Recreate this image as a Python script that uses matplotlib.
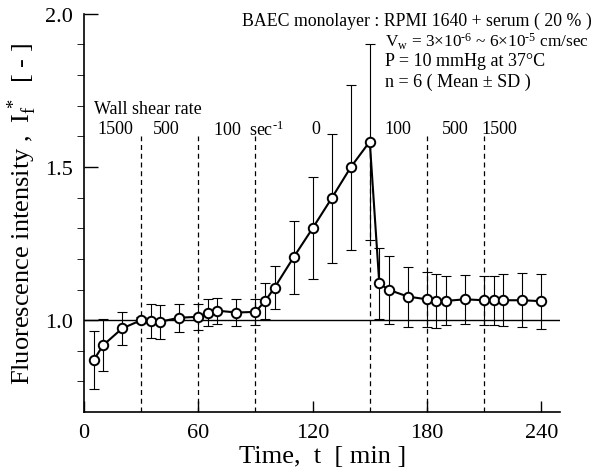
import matplotlib
matplotlib.use("Agg")
import matplotlib.pyplot as plt
import numpy as np

plt.rcParams["font.family"] = ["Liberation Serif", "DejaVu Serif"]
plt.rcParams["mathtext.fontset"] = "custom"
plt.rcParams["mathtext.rm"] = "Liberation Serif"
plt.rcParams["mathtext.it"] = "Liberation Serif:italic"

# time points [min], mean fluorescence intensity and SD
t = [5, 10, 20, 30, 35, 40, 50, 60, 65, 70, 80, 90, 95, 100, 110, 120, 130,
     140, 150, 155, 160, 170, 180, 185, 190, 200, 210, 215, 220, 230, 240]
mean_if = [0.869, 0.918, 0.973, 1.000, 0.997, 0.995, 1.008, 1.011, 1.025,
           1.031, 1.025, 1.027, 1.062, 1.106, 1.205, 1.300, 1.398, 1.499,
           1.583, 1.120, 1.099, 1.077, 1.068, 1.063, 1.063, 1.068, 1.065,
           1.065, 1.065, 1.065, 1.062]
sd_if = [0.095, 0.085, 0.055, 0.010, 0.055, 0.055, 0.045, 0.043, 0.043,
         0.042, 0.045, 0.043, 0.059, 0.070, 0.120, 0.166, 0.210, 0.270,
         0.320, 0.117, 0.110, 0.098, 0.090, 0.088, 0.080, 0.080, 0.080,
         0.080, 0.085, 0.088, 0.090]

# shear rate change times and the labels of each period
switch_t = [30, 60, 90, 150, 180, 210]
rate_x = [6.8, 36, 67.6, 119.5, 157.8, 187.6, 208.6]
rate_labels = ["1500", "500", r"100  sec$^{\mathrm{\text{-}1}}$", "0", "100", "500", "1500"]

fig = plt.figure(figsize=(5.96, 4.77), dpi=100)
ax = fig.add_axes([0.141, 0.134, 0.799, 0.835])

# reference line and shear-rate switch lines
ax.axhline(1.0, color="black", lw=1.0, zorder=1)
ax.vlines(switch_t, 0.7, 1.6, colors="black", linestyles=(0, (4, 3)), lw=0.9, zorder=1)

ax.errorbar(t, mean_if, yerr=sd_if, fmt="none", ecolor="black", elinewidth=0.8,
            capsize=3.5, capthick=0.8, zorder=2)
ax.plot(t, mean_if, "-o", color="black", lw=1.5, markersize=6.8,
        markerfacecolor="white", markeredgecolor="black", markeredgewidth=1.4, zorder=3)

ax.set_xlim(0, 250)
ax.set_ylim(0.7, 2.0)
ax.set_xticks([0, 60, 120, 180, 240])
ax.set_yticks([1.0, 1.5, 2.0])
ax.set_yticks(np.arange(0.8, 2.0, 0.1), minor=True)
ax.tick_params(axis="both", direction="in", labelsize=16, width=1.0)
ax.tick_params(axis="y", which="major", length=10, pad=8)
ax.tick_params(axis="y", which="minor", length=5)
ax.tick_params(axis="x", which="major", length=8, pad=8)
for s in ["top", "right"]:
    ax.spines[s].set_visible(False)
ax.spines["left"].set_linewidth(1.2)
ax.spines["bottom"].set_linewidth(1.2)

ax.set_xlabel("Time,  t  [ min ]", fontsize=19, labelpad=2)
ax.set_ylabel(r"Fluorescence intensity ,  $\mathrm{I}_{\mathrm{f}}^{\,*}$  [ - ]",
              fontsize=19, labelpad=4)

ax.text(5, 1.69, "Wall shear rate", fontsize=13, va="center")
for x, lab in zip(rate_x, rate_labels):
    ax.text(x, 1.624, lab, fontsize=13, va="center")

ax.text(82.8, 1.977, "BAEC monolayer : RPMI 1640 + serum ( 20 % )", fontsize=12.8, va="center")
ax.text(158, 1.912, r"V$_\mathrm{w}$ = 3×10$^{\mathrm{\text{-}6}}$ ~ 6×10$^{\mathrm{\text{-}5}}$ cm/sec",
        fontsize=12.4, va="center")
ax.text(158, 1.846, "P = 10 mmHg at 37°C", fontsize=13, va="center")
ax.text(158, 1.78, "n = 6 ( Mean ± SD )", fontsize=13, va="center")

fig.savefig("out.png", dpi=100)
